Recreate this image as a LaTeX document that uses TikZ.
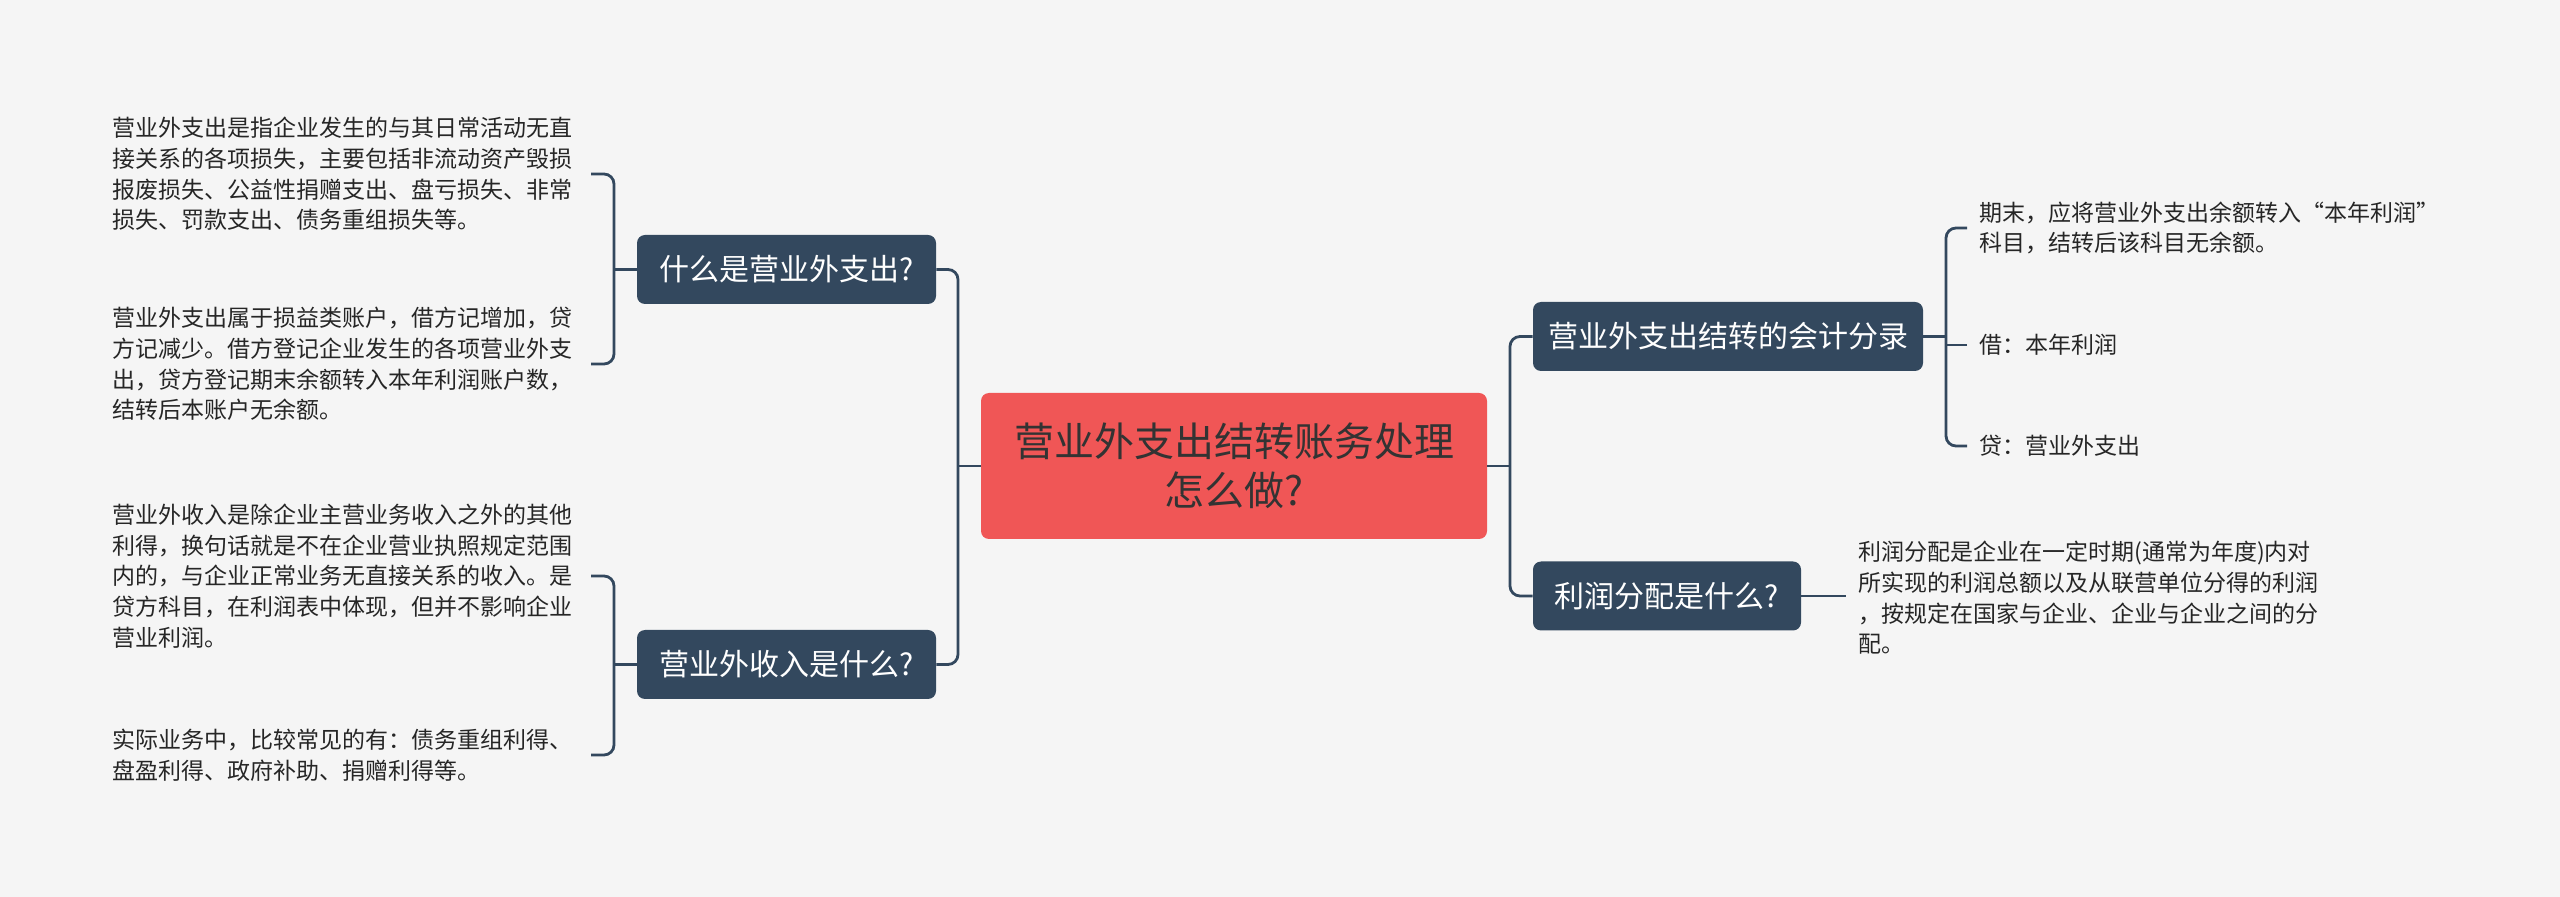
\documentclass[tikz,border=0pt]{standalone}
\usepackage{fontspec}
\setmainfont{Noto Sans CJK SC}
\usetikzlibrary{calc}
\definecolor{bg}{HTML}{F5F5F5}
\definecolor{navy}{HTML}{33485E}
\definecolor{redc}{HTML}{F05656}
\definecolor{ctext}{HTML}{333333}
\definecolor{ltext}{HTML}{262626}
\begin{document}
\begin{tikzpicture}[x=0.5pt,y=-0.5pt,
  conn/.style={draw=navy, line width=1.4pt, rounded corners=5pt},
  topic/.style={fill=navy, rounded corners=4pt, text=white, font=\fontsize{15}{17}\selectfont, minimum height=34.5pt, inner sep=0pt},
  centre/.style={fill=redc, rounded corners=4pt, text=ctext, font=\fontsize{20}{24.5}\selectfont, minimum width=253pt, minimum height=73pt, align=center, inner sep=0pt},
  leaf/.style={align=left, inner xsep=6pt, inner ysep=0pt, text=ltext, font=\fontsize{11.5}{15.3}\selectfont},
  leftleaf/.style={leaf, text width=233pt, anchor=east},
  rightleaf/.style={leaf, anchor=west}]
\fill[bg] (0,0) rectangle (2560,897);
\useasboundingbox (0,0) rectangle (2560,897);

\node[centre] (C) at (1234,466) {营业外支出结转账务处理\\怎么做?};

\node[topic, minimum width=149.5pt] (L1) at (786.5,269.5) {什么是营业外支出?};
\node[topic, minimum width=149.5pt] (L2) at (786.5,664.5) {营业外收入是什么?};
\node[topic, minimum width=195pt] (R1) at (1728,336.5) {营业外支出结转的会计分录};
\node[topic, minimum width=134pt] (R2) at (1667,596) {利润分配是什么?};

\node[leftleaf] (T1) at (591,174) {营业外支出是指企业发生的与其日常活动无直\\接关系的各项损失，主要包括非流动资产毁损\\报废损失、公益性捐赠支出、盘亏损失、非常\\损失、罚款支出、债务重组损失等。};
\node[leftleaf] (T2) at (591,364) {营业外支出属于损益类账户，借方记增加，贷\\方记减少。借方登记企业发生的各项营业外支\\出，贷方登记期末余额转入本年利润账户数，\\结转后本账户无余额。};
\node[leftleaf] (T3) at (591,576) {营业外收入是除企业主营业务收入之外的其他\\利得，换句话就是不在企业营业执照规定范围\\内的，与企业正常业务无直接关系的收入。是\\贷方科目，在利润表中体现，但并不影响企业\\营业利润。};
\node[leftleaf] (T4) at (591,755) {实际业务中，比较常见的有：债务重组利得、\\盘盈利得、政府补助、捐赠利得等。};

\node[rightleaf] (S1) at (1967,228) {期末，应将营业外支出余额转入“本年利润”\\科目，结转后该科目无余额。};
\node[rightleaf] (S2) at (1967,345) {借：本年利润};
\node[rightleaf] (S3) at (1967,446) {贷：营业外支出};
\node[rightleaf] (P) at (1846,598) {利润分配是企业在一定时期(通常为年度)内对\\所实现的利润总额以及从联营单位分得的利润\\，按规定在国家与企业、企业与企业之间的分\\配。};

\coordinate (lt) at (958,466);
\coordinate (rt) at (1510,466);
\coordinate (b1) at (614,269.5);
\coordinate (b2) at (614,664.5);
\coordinate (rb) at (1946,336.5);

\draw[conn] (C.west) -- (lt);
\draw[conn] (L1.east) -| (lt) |- (L2.east);
\draw[conn] (C.east) -- (rt);
\draw[conn] (R1.west) -| (rt) |- (R2.west);
\draw[conn] (L1.west) -- (b1);
\draw[conn] (T1.east) -| (b1) |- (T2.east);
\draw[conn] (L2.west) -- (b2);
\draw[conn] (T3.east) -| (b2) |- (T4.east);
\draw[conn] (R1.east) -- (rb);
\draw[conn] (S1.west) -| (rb) |- (S3.west);
\draw[conn] (S2.west) -- (S2.west -| rb);
\draw[conn] (R2.east) -- (R2.east -| P.west);
\end{tikzpicture}
\end{document}
